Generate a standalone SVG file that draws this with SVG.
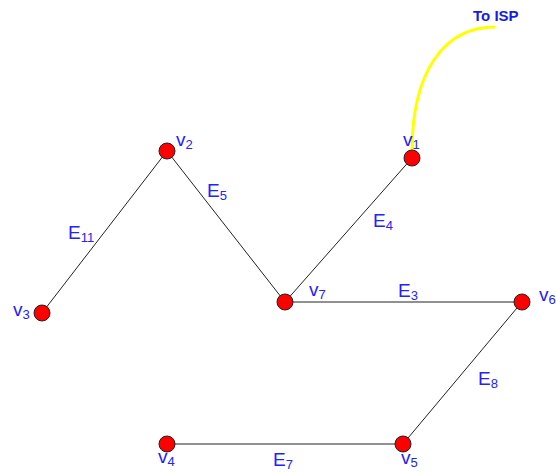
<svg xmlns="http://www.w3.org/2000/svg" width="556" height="472" viewBox="0 0 556 472">
<style>
.e{stroke:#222;stroke-width:1;fill:none}
.n{fill:#ff0000;stroke:#222;stroke-width:1}
.t{font-family:"Liberation Sans",Arial,sans-serif;font-size:19px;fill:#2222ff}
.s{font-size:13px}
</style>
<rect width="556" height="472" fill="#fff"/>
<g id="connectors">
<path class="e" d="M167,151 L42,313"/>
<path class="e" d="M167,151 L285,302"/>
<path class="e" d="M412,158 L285,302"/>
<path class="e" d="M285,302 L522,302"/>
<path class="e" d="M522,302 L403,444"/>
<path class="e" d="M167,444 L403,444"/>
<path d="M412,152 C412,70 445,27 495,27" fill="none" stroke="#ffff00" stroke-width="3"/>
<text class="t" x="207" y="197">E<tspan class="s" dy="3">5</tspan></text>
<text class="t" x="68" y="239">E<tspan class="s" dy="3">11</tspan></text>
<text class="t" x="373" y="227">E<tspan class="s" dy="3">4</tspan></text>
<text class="t" x="398" y="297">E<tspan class="s" dy="3">3</tspan></text>
<text class="t" x="478" y="385">E<tspan class="s" dy="3">8</tspan></text>
<text class="t" x="273" y="466">E<tspan class="s" dy="3">7</tspan></text>
</g>
<g id="isp"><text x="473" y="21" font-family="Liberation Sans,Arial,sans-serif" font-size="15" font-weight="bold" fill="#1a1ae6">To ISP</text></g>
<g id="v1"><circle class="n" cx="412" cy="158" r="8"/><text class="t" x="403" y="146">v<tspan class="s" dy="3">1</tspan></text></g>
<g id="v2"><circle class="n" cx="167" cy="151" r="8"/><text class="t" x="176" y="146">v<tspan class="s" dy="3">2</tspan></text></g>
<g id="v3"><circle class="n" cx="42" cy="313" r="8"/><text class="t" x="13" y="316">v<tspan class="s" dy="3">3</tspan></text></g>
<g id="v7"><circle class="n" cx="285" cy="302" r="8"/><text class="t" x="309" y="296">v<tspan class="s" dy="3">7</tspan></text></g>
<g id="v6"><circle class="n" cx="522" cy="302" r="8"/><text class="t" x="539" y="301">v<tspan class="s" dy="3">6</tspan></text></g>
<g id="v4"><circle class="n" cx="167" cy="444" r="8"/><text class="t" x="158" y="463">v<tspan class="s" dy="3">4</tspan></text></g>
<g id="v5"><circle class="n" cx="403" cy="444" r="8"/><text class="t" x="401" y="464">v<tspan class="s" dy="3">5</tspan></text></g>
</svg>
